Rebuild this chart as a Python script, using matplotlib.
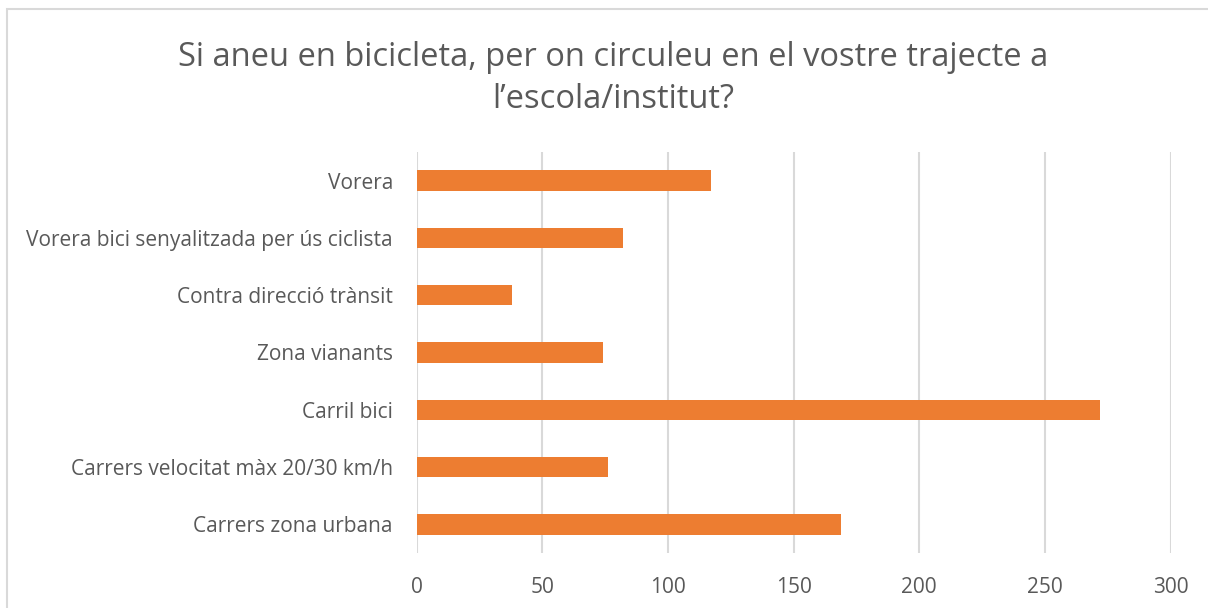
import matplotlib.pyplot as plt
from matplotlib.patches import Rectangle

categories = ["Vorera", "Vorera bici senyalitzada per ús ciclista", "Contra direcció trànsit",
              "Zona vianants", "Carril bici", "Carrers velocitat màx 20/30 km/h", "Carrers zona urbana"]
values = [117, 82, 38, 74, 272, 76, 169]
ticks = [0, 50, 100, 150, 200, 250, 300]

plt.rcParams['font.family'] = ['Open Sans', 'DejaVu Sans']

fig = plt.figure(figsize=(12.08, 6.08), dpi=100)
ax = fig.add_axes([0.3448, 0.0905, 0.6242, 0.6595])

pos = list(range(len(categories)))[::-1]
ax.barh(pos, values, height=0.355, color='#ED7D31', zorder=3)

ax.set_xlim(0, 300)
ax.set_ylim(-0.5, len(categories) - 0.5)
ax.set_xticks(ticks)
ax.set_yticks(pos)
ax.set_yticklabels(categories)
ax.grid(axis='x', color='#D9D9D9', linewidth=1.5, zorder=0)
for s in ax.spines.values():
    s.set_visible(False)
ax.tick_params(axis='both', length=0, labelsize=15, colors='#595959')
ax.tick_params(axis='y', pad=17)
ax.tick_params(axis='x', pad=17)

# title, two centred lines like the Excel chart
fig.text(613 / 1208, 1 - 57 / 608, "Si aneu en bicicleta, per on circuleu en el vostre trajecte a",
         ha='center', va='center', fontsize=23.5, color='#595959')
fig.text(613 / 1208, 1 - 100 / 608, "l\u2019escola/institut?",
         ha='center', va='center', fontsize=23.5, color='#595959')

fig.patches.append(Rectangle((7.5 / 1208, -0.1), 1.2, 1 - 9.5 / 608 + 0.1, transform=fig.transFigure,
                             fill=False, edgecolor='#D9D9D9', linewidth=1.5))

fig.savefig("out.png", dpi=100)
